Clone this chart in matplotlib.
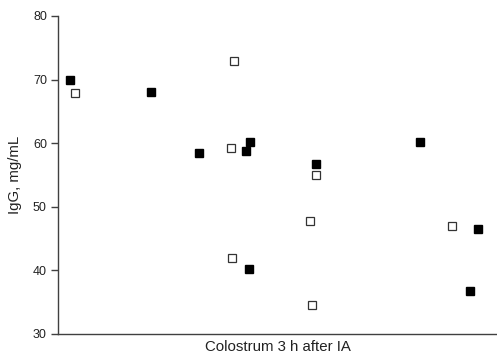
import matplotlib
matplotlib.use('Agg')
import matplotlib.pyplot as plt

plt.rcParams['font.family'] = ['Liberation Sans', 'DejaVu Sans']

# horizontal position is only a spread along the axis (no x scale)
xFilled = [12, 93, 141, 188, 192, 191, 258, 362, 420, 412]
yFilled = [70.0, 68.1, 58.5, 58.8, 60.2, 40.2, 56.7, 60.2, 46.5, 36.8]

xOpen = [17, 176, 173, 174, 258, 252, 254, 394]
yOpen = [67.9, 72.9, 59.2, 41.9, 55.0, 47.8, 34.5, 47.0]

fig = plt.figure(figsize=(4.97, 3.58), dpi=100)
ax = fig.add_axes([58/497, 24/358, 1 - 58/497, 318/358])

ax.plot(xFilled, yFilled, 's', color='black', markersize=6.3, linestyle='none')
ax.plot(xOpen, yOpen, 's', markerfacecolor='white', markeredgecolor='#333333',
        markeredgewidth=0.9, markersize=6.0, linestyle='none')

ax.set_xlim(0, 439)
ax.set_ylim(30, 80)
ax.set_yticks([30, 40, 50, 60, 70, 80])
ax.set_xticks([])
ax.spines['top'].set_visible(False)
ax.spines['right'].set_visible(False)
for s in ['left', 'bottom']:
    ax.spines[s].set_color('#404040')
    ax.spines[s].set_linewidth(1.0)
ax.tick_params(axis='y', direction='out', length=5, width=1.0, color='#404040',
               labelsize=9, pad=3, labelcolor='#222222')
ax.set_xlabel('Colostrum 3 h after IA', fontsize=10.8, color='#222222', labelpad=4)
ax.set_ylabel('IgG, mg/mL', fontsize=10.8, color='#222222', labelpad=8)

fig.savefig('out.png', dpi=100)
